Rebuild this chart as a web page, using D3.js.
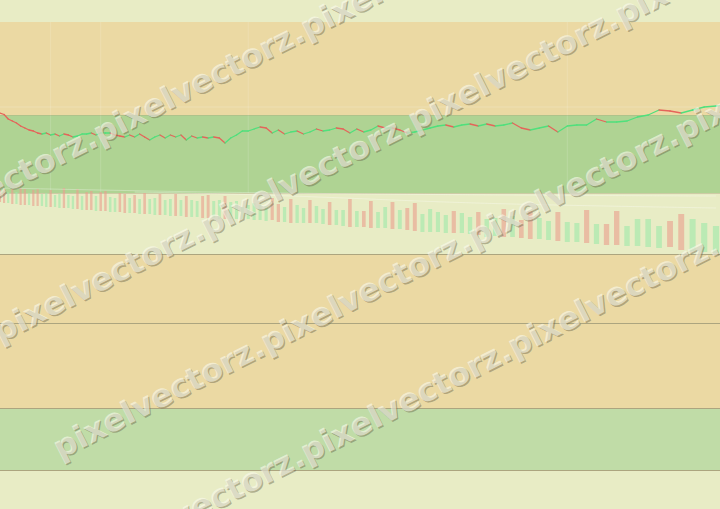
<!DOCTYPE html>
<html><head><meta charset="utf-8">
<script src="https://cdn.jsdelivr.net/npm/d3@7"></script>
<style>html,body{margin:0;padding:0;background:#e8ecc5;} svg{display:block;}</style>
</head><body>
<svg id="c" width="720" height="509"></svg>
<script>
// ---------- data ----------
const priceValues = [117,115.5,111,109,107,104,102,100,99,97,
 96,97,95,96,94,96,95,93,94,96,
 96,97,95,97,97,97,95,94,93,95,
 93,96,93,90,93,95,92,95,93,95,
 90,94,92,93,92,93,92,87,92,95,
 99,99,101,103,102,97,100,96,98,99,
 96,98,101,99,100,102,101,97,101,98,
 100,104,102,102,100,97,98,100,102,104,
 105,103,105,106,104,106,104,105,107,102,
 100,102,104,98,104,105,105,111,108,108,
 109,113,115,120,119,117,120,123,124,125];
const barOpen = [70,71,57,71,56,72,71,55,70,71,
 54,53,70,53,52,72,52,51,71,50,
 68,69,49,68,69,48,48,67,66,47,
 65,46,67,46,45,66,45,44,66,44,
 64,43,43,64,65,42,41,64,41,41,
 41,41,40,40,39,62,56,38,61,37,
 37,60,37,36,58,35,34,61,33,49,
 59,32,32,58,31,52,57,28,28,28,
 27,49,27,26,48,23,24,51,23,40,
 49,21,20,48,18,18,50,16,36,49,
 14,14,13,12,39,46,9,8,7];
const barClose = [58,57,68,56,68,55,55,67,54,54,
 66,67,53,65,66,52,65,64,51,64,
 50,50,64,49,49,63,62,48,47,62,
 47,61,46,61,62,45,60,61,44,60,
 43,60,59,42,42,59,60,41,58,59,
 53,55,57,55,54,40,38,53,37,55,
 52,37,54,51,35,50,50,33,49,33,
 32,48,53,31,50,30,29,46,51,48,
 45,27,47,43,25,41,42,23,44,22,
 21,42,39,19,38,37,17,36,15,15,
 34,41,41,34,13,10,41,37,34];
const avgFast = [[0,72],[50,67],[85,65],[108,64]];
const avgSlow = [[30,68],[50,66],[70,61],[85,56],[108,52]];
const gridIndex = [12, 23, 51, 94];
const priceGrid = [123];
const watermarkText = "pixelvectorz.";

// ---------- layout ----------
const W = 720, H = 509;
const C = {pale:"#e8ecc5", tan:"#ebd9a3", green:"#afd393", green2:"#c0dca7",
           rule:"#aca57f", up:"#4fe07c", down:"#e5645a",
           barUp:"#a0e9aa", barDown:"#eaa08e"};
const bands = [
  {y0:0,   y1:22,  fill:C.pale},
  {y0:22,  y1:115, fill:C.tan},
  {y0:115, y1:193, fill:C.green},
  {y0:193, y1:254, fill:C.pale},
  {y0:254, y1:323, fill:C.tan},
  {y0:323, y1:408, fill:C.tan},
  {y0:408, y1:470, fill:C.green2},
  {y0:470, y1:509, fill:C.pale}];
const rules = [{y:115,o:0.35},{y:193,o:0.45},{y:254,o:1},{y:323,o:1},{y:408,o:1},{y:470,o:1}];

const svg = d3.select("#c");
svg.selectAll("rect.band").data(bands).join("rect").attr("class","band")
  .attr("x",0).attr("width",W).attr("y",d=>d.y0).attr("height",d=>d.y1-d.y0).attr("fill",d=>d.fill);

// perspective-like x scale (index -> x)
const D = 164;
const xs = d3.scaleLog().domain([D, 55]).range([0, 728]);
const xi = i => xs(D - i);
const yPrice = d3.scaleLinear().domain([90,130]).range([140,100]);
const yBar = d3.scaleLinear().domain([0,80]).range([260,180]);

// faint grid
svg.selectAll("line.vg").data(gridIndex).join("line").attr("class","vg")
  .attr("x1",d=>xi(d)).attr("x2",d=>xi(d)).attr("y1",22).attr("y2",193)
  .attr("stroke","#ffffff").attr("stroke-opacity",0.15).attr("stroke-width",1);
svg.selectAll("line.hg").data(priceGrid).join("line").attr("class","hg")
  .attr("x1",0).attr("x2",W).attr("y1",d=>yPrice(d)).attr("y2",d=>yPrice(d))
  .attr("stroke","#ffffff").attr("stroke-opacity",0.18);

// rules
svg.selectAll("line.rule").data(rules).join("line").attr("class","rule")
  .attr("x1",0).attr("x2",W).attr("y1",d=>d.y+0.5).attr("y2",d=>d.y+0.5)
  .attr("stroke",C.rule).attr("stroke-opacity",d=>d.o).attr("stroke-width",1);

// bars (candle bodies)
const bars = barOpen.map((o,i)=>({i, o, c:barClose[i]}));
svg.selectAll("rect.bar").data(bars).join("rect").attr("class","bar")
  .attr("x",d=>{const w=(xi(d.i+1)-xi(d.i))*0.52; return xi(d.i)-w/2;})
  .attr("width",d=>(xi(d.i+1)-xi(d.i))*0.52)
  .attr("y",d=>yBar(Math.max(d.o,d.c)))
  .attr("height",d=>Math.abs(yBar(d.o)-yBar(d.c)))
  .attr("fill",d=>d.c>=d.o?C.barUp:C.barDown).attr("fill-opacity",0.62);

// faint averages
const avgLine = d3.line().x(d=>xi(d[0])).y(d=>yBar(d[1])).curve(d3.curveBasis);
[avgFast, avgSlow].forEach(a=>{
  svg.append("path").attr("d",avgLine(a)).attr("fill","none")
    .attr("stroke","#ffffff").attr("stroke-opacity",0.3).attr("stroke-width",1);
});

// price line, colored by direction
const segs = d3.range(1, priceValues.length).map(i=>({a:i-1,b:i,up:priceValues[i]>=priceValues[i-1]}));
svg.selectAll("line.seg").data(segs).join("line").attr("class","seg")
  .attr("x1",d=>xi(d.a)).attr("y1",d=>yPrice(priceValues[d.a]))
  .attr("x2",d=>xi(d.b)).attr("y2",d=>yPrice(priceValues[d.b]))
  .attr("stroke",d=>d.up?C.up:C.down).attr("stroke-width",1.3).attr("stroke-linecap","round");

// watermark
const angle = -27, rad = angle*Math.PI/180;
const wm = svg.append("g").attr("font-family","DejaVu Sans").attr("font-weight","bold").attr("font-size",32);
const meas = wm.append("text").text(watermarkText);
const period = meas.node().getComputedTextLength();
meas.remove();
const rows = [{c:196,p:100,back:1,n:3},{c:343,p:0,back:0,n:4},{c:490,p:60,back:0,n:4},{c:620,p:100,back:0,n:3}];
rows.forEach(r=>{
  const sx = r.p - r.back*period*Math.cos(rad);
  const sy = r.c + Math.tan(rad)*sx;
  const t = watermarkText.repeat(r.n+r.back);
  [[1.3,1.3,"rgba(105,98,70,0.45)"],[0,0,"rgba(250,250,236,0.62)"]].forEach(([dx,dy,fill])=>{
    wm.append("text").text(t)
      .attr("transform",`translate(${sx+dx},${sy+dy}) rotate(${angle})`)
      .attr("fill",fill);
  });
});
</script>
</body></html>
